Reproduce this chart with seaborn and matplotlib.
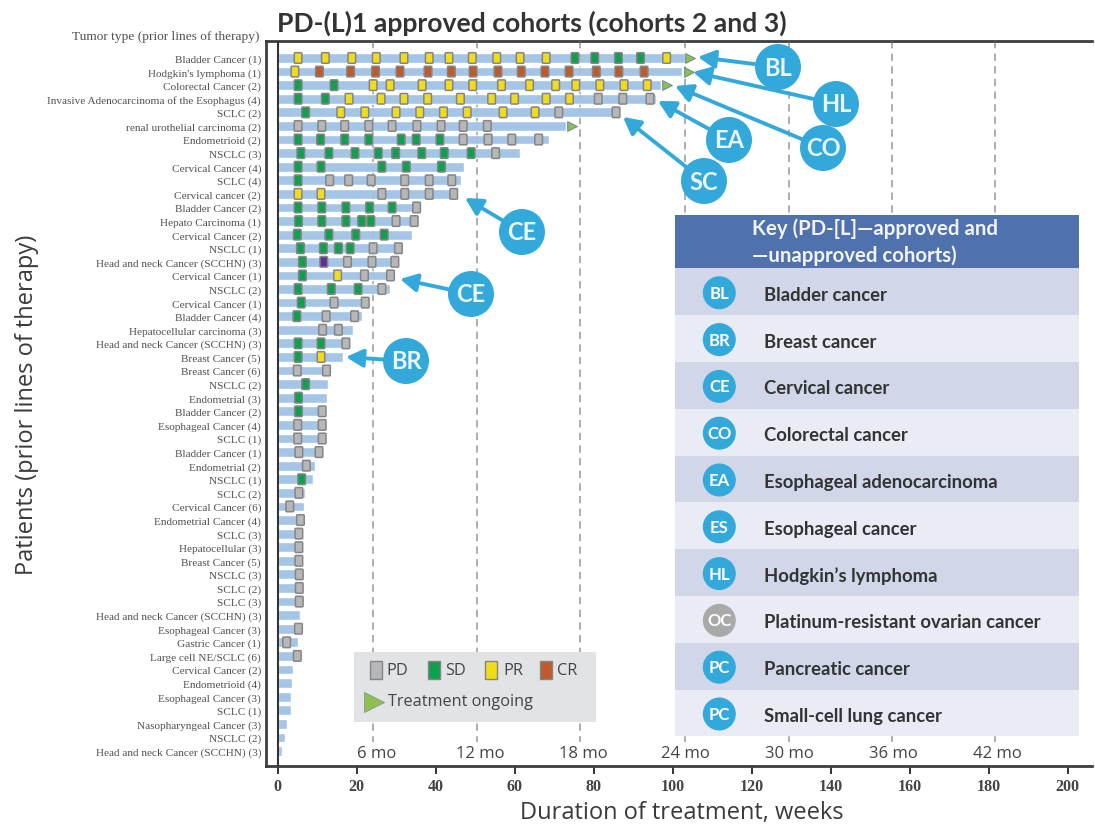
import numpy as np
import pandas as pd
import matplotlib
matplotlib.use("Agg")
import matplotlib.pyplot as plt
import seaborn as sns
from matplotlib.path import Path
from matplotlib.patches import Rectangle, Circle

# tumor type per patient, top to bottom
tumor_labels = ["Bladder Cancer (1)", "Hodgkin's lymphoma (1)", "Colorectal Cancer (2)",
    "Invasive Adenocarcinoma of the Esophagus (4)", "SCLC (2)", "renal urothelial carcinoma (2)",
    "Endometrioid (2)", "NSCLC (3)", "Cervical Cancer (4)", "SCLC (4)", "Cervical cancer (2)",
    "Bladder Cancer (2)", "Hepato Carcinoma (1)", "Cervical Cancer (2)", "NSCLC (1)",
    "Head and neck Cancer (SCCHN) (3)", "Cervical Cancer (1)", "NSCLC (2)", "Cervical Cancer (1)",
    "Bladder Cancer (4)", "Hepatocellular carcinoma (3)", "Head and neck Cancer (SCCHN) (3)",
    "Breast Cancer (5)", "Breast Cancer (6)", "NSCLC (2)", "Endometrial (3)", "Bladder Cancer (2)",
    "Esophageal Cancer (4)", "SCLC (1)", "Bladder Cancer (1)", "Endometrial (2)", "NSCLC (1)",
    "SCLC (2)", "Cervical Cancer (6)", "Endometrial Cancer (4)", "SCLC (3)", "Hepatocellular (3)",
    "Breast Cancer (5)", "NSCLC (3)", "SCLC (2)", "SCLC (3)", "Head and neck Cancer (SCCHN) (3)",
    "Esophageal Cancer (3)", "Gastric Cancer (1)", "Large cell NE/SCLC (6)", "Cervical Cancer (2)",
    "Endometrioid (4)", "Esophageal Cancer (3)", "SCLC (1)", "Nasopharyngeal Cancer (3)",
    "NSCLC (2)", "Head and neck Cancer (SCCHN) (3)"]

# duration of treatment, weeks
durations = [103.1, 102.5, 97, 95.7, 86, 73, 68.7, 61.4, 47.3, 46.4, 45, 36, 35, 34, 31, 30.6,
    29, 28.5, 23, 21.5, 19, 18, 16.6, 13, 12.7, 12.5, 12, 12, 12, 11.5, 9.5, 8.9, 6.9, 6.6, 6.3,
    5.9, 5.9, 5.9, 5.9, 5.9, 5.9, 5.6, 5.6, 5.3, 5.4, 3.9, 3.6, 3.5, 3.5, 2.5, 1.8, 1.1]

# responses: patient row -> weeks
pd_weeks = {3: [81.2, 87.4, 94.3], 4: [71.2, 85.7],
    5: [5.2, 11.2, 17, 23.1, 29, 35.3, 41.4, 47, 53.1], 6: [47, 53.3, 59.3, 66.1], 7: [55.2],
    9: [13.2, 18, 23.7, 32.2, 38.4, 44.1], 10: [26.4, 32.2, 38.4, 44.6], 11: [35.2], 12: [30, 34.6],
    14: [24.2, 30.6], 15: [17.7, 23.9, 29.7], 16: [22, 28.6], 17: [26.4], 18: [14.3, 22.2],
    19: [12.3, 19.5], 20: [11.4, 15.4], 21: [17.3], 23: [5, 12.4], 26: [11.3], 27: [5.1, 11.3],
    28: [5.1, 11.3], 29: [5.4, 10.5], 30: [7.3], 32: [5.4], 33: [3.1], 34: [5.8], 35: [5.4],
    36: [5.4], 37: [5.4], 38: [5.5], 39: [5.5], 40: [5.5], 42: [5.3], 43: [2.3], 44: [5]}
sd_weeks = {0: [75.3, 80.3, 86.3, 91.9], 2: [5.2, 14.3], 3: [5.2, 12.1], 4: [7.1],
    6: [5.2, 10.9, 17, 23.1, 31.3, 35.1, 41.1], 7: [5.9, 13, 19.6, 25.5, 29.9, 36.5, 42.2, 49],
    8: [5.2, 11, 26.4, 32.6, 41.5], 9: [5.2], 11: [5.2, 11.2, 17.3, 23.3, 29],
    12: [5.3, 11.2, 17.3, 21.3, 23.6], 13: [5, 13, 19.8, 27], 14: [5.8, 11.6, 15.4, 18.4], 15: [6.3],
    16: [6.3], 17: [5.2, 13.6, 20.4], 18: [6], 19: [4.9], 21: [5.2, 11], 22: [5.2], 24: [7.1],
    25: [5.3], 26: [5.3], 31: [6.1]}
pr_weeks = {0: [5.2, 12.1, 18.8, 25, 32, 38.4, 43.4, 49.3, 55.5, 61.4, 68, 98.5], 1: [4.4],
    2: [24.2, 28.5, 36.6, 43.4, 49.4, 56.7, 63.8, 70.4, 75.5, 81.6, 87.7, 93.6],
    3: [18.1, 26.2, 32, 38, 46.3, 54.2, 60, 68, 73.9], 4: [16, 22.1, 30, 36, 42, 48, 57.1, 65.2],
    10: [5.2, 11], 16: [15.2], 22: [11]}
cr_weeks = {1: [10.6, 18.5, 24.8, 31, 38.1, 44, 49.5, 55.8, 61.7, 67.7, 73.8, 80.7, 86.4, 92.8]}
other_weeks = {15: [11.7]}
ongoing_rows = [0, 1, 2, 5]
ongoing_weeks = [104.4, 104.2, 98.6, 74.6]

month_labels = ["6 mo", "12 mo", "18 mo", "24 mo", "30 mo", "36 mo", "42 mo"]
month_weeks = [24.1, 50.4, 76.7, 103.1, 129.4, 155.6, 181.7]

key_codes = ["BL", "BR", "CE", "CO", "EA", "ES", "HL", "OC", "PC", "PC"]
key_names = ["Bladder cancer", "Breast cancer", "Cervical cancer", "Colorectal cancer",
    "Esophageal adenocarcinoma", "Esophageal cancer", "Hodgkin\u2019s lymphoma",
    "Platinum-resistant ovarian cancer", "Pancreatic cancer", "Small-cell lung cancer"]

colors = {"PD": "#b7b7b7", "SD": "#0ea04c", "PR": "#f0dc18", "CR": "#bf5a2b", "other": "#63308f"}
blue = "#33a9db"

sns.set_theme(style="white")
plt.rcParams["font.family"] = ["Open Sans", "DejaVu Sans"]

# response marks as a long table
rows = []
for name, d in [("PD", pd_weeks), ("SD", sd_weeks), ("PR", pr_weeks), ("CR", cr_weeks), ("other", other_weeks)]:
    for r, wks in d.items():
        for w in wks:
            rows.append((r, w, name))
marks = pd.DataFrame(rows, columns=["row", "week", "response"])
bars = pd.DataFrame({"row": np.arange(len(durations)), "week": durations})
ongoing = pd.DataFrame({"row": ongoing_rows, "week": ongoing_weeks})

# rounded box used for the response marks
w, h, c = 0.72, 1.0, 0.18
box = Path([(-w + c, -h), (w - c, -h), (w, -h), (w, -h + c), (w, h - c), (w, h), (w - c, h),
            (-w + c, h), (-w, h), (-w, h - c), (-w, -h + c), (-w, -h), (-w + c, -h), (-w + c, -h)],
           [Path.MOVETO, Path.LINETO, Path.CURVE3, Path.CURVE3, Path.LINETO, Path.CURVE3, Path.CURVE3,
            Path.LINETO, Path.CURVE3, Path.CURVE3, Path.LINETO, Path.CURVE3, Path.CURVE3, Path.CLOSEPOLY])

fig = plt.figure(figsize=(10.95, 8.28), dpi=100)
ax = fig.add_axes([265.7 / 1095, 1 - 767 / 828, (1092 - 265.7) / 1095, 725 / 828])

sns.barplot(data=bars, x="week", y="row", orient="h", native_scale=True, width=0.72,
            color="#a4c5e5", saturation=1, ax=ax, zorder=2)
for wk in month_weeks:
    ax.plot([wk, wk], [-1.25, 50.3], color="#a9a9a9", lw=1.3, ls=(0, (4, 3)), zorder=1)
    ax.plot([wk, wk], [-1.25, 50.3], color="#a9a9a9", lw=1.3, ls=(0, (4, 3)), alpha=0.25, zorder=3)
sns.scatterplot(data=marks, x="week", y="row", hue="response", palette=colors, marker=box, s=58,
                edgecolor="#858585", linewidth=1.1, legend=False, ax=ax, zorder=4)
sns.scatterplot(data=ongoing, x="week", y="row", color="#8fbf4d", marker=">", s=48,
                edgecolor="#6f8f96", linewidth=0.8, legend=False, ax=ax, zorder=4)
ax.axvline(0, color="#333333", lw=1.5, zorder=5)

ax.set_xlim(-3.0, 206.2)
ax.set_ylim(52.1, -1.25)
ax.set_yticks(range(len(tumor_labels)))
ax.set_yticklabels(tumor_labels, family="Liberation Serif", fontsize=8.15, color="#505050")
ax.tick_params(axis="y", length=0, pad=3.3)
ax.set_xticks(range(0, 201, 20))
ax.tick_params(axis="x", length=6, width=1.4, color="#333333", pad=3, bottom=True)
for t in ax.get_xticklabels():
    t.set(family="Liberation Serif", fontsize=11.5, fontweight="bold", color="#444444")
for s in ["top", "left", "bottom"]:
    ax.spines[s].set(linewidth=2, color="#3d3d3d")
ax.spines["right"].set_visible(False)

ax.set_xlabel("Duration of treatment, weeks", fontsize=17, color="#3a3a3a", va="center")
ax.xaxis.set_label_coords(0.504, -0.064)
ax.set_ylabel("Patients (prior lines of therapy)", fontsize=17, color="#3a3a3a", va="center")
ax.yaxis.set_label_coords(-0.289, 0.50)

# overlay in picture pixels for the key, legend box and callouts
ov = fig.add_axes([0, 0, 1, 1], facecolor="none")
ov.set_xlim(0, 1095)
ov.set_ylim(828, 0)
ov.axis("off")

ov.text(277, 23, "PD-(L)1 approved cohorts (cohorts 2 and 3)", fontsize=19.1, fontweight="bold",
        family="Lato", color="#333333", va="center")
ov.text(259, 37, "Tumor type (prior lines of therapy)", family="Liberation Serif", fontsize=9.6,
        color="#505050", ha="right", va="center")

for lab, wk, px in zip(month_labels, month_weeks, [377, 480, 583, 685, 789, 893, 997]):
    ov.text(px, 754, lab, fontsize=12, color="#444444", ha="center", va="center")

# key panel
ov.add_patch(Rectangle((675, 215.7), 403.5, 53.6, color="#4f71ae", lw=0))
ov.text(752, 229, "Key (PD-[L]\u2014approved and", family="Lato", fontsize=14.7, fontweight="bold",
        color="#f2f4fa", va="center")
ov.text(752, 255.5, "\u2014unapproved cohorts)", family="Lato", fontsize=14.7, fontweight="bold",
        color="#f2f4fa", va="center")
for i, (code, name) in enumerate(zip(key_codes, key_names)):
    top = 269.3 + i * 46.8
    ov.add_patch(Rectangle((675, top), 403.5, 46.8, color="#d1d7e9" if i % 2 == 0 else "#e9ebf5", lw=0))
    ov.add_patch(Circle((719.3, top + 24.5), 16.5, color="#a9a9a9" if code == "OC" else blue, lw=0))
    ov.text(719.3, top + 24.5, code, fontsize=12, fontweight="bold", family="Lato", color="white",
            ha="center", va="center")
    ov.text(764, top + 26, name, fontsize=13.3, fontweight="bold", family="Lato", color="#333333",
            va="center")

# response legend box
ov.add_patch(Rectangle((354, 653), 241.6, 69.7, color="#e1e3e4", lw=0, zorder=3))
for lab, cx, tx in [("PD", 376, 386), ("SD", 434, 445.5), ("PR", 491, 503), ("CR", 546, 557)]:
    ov.add_patch(Rectangle((cx - 6, 662), 12, 18, facecolor=colors[lab], edgecolor="#858585", lw=1, zorder=4))
    ov.text(tx, 671, lab, fontsize=11.7, color="#444444", va="center", zorder=4)
ov.scatter([374], [703], marker=">", s=210, color="#8fbf4d", edgecolor="#7d9aa0", linewidth=0.6, zorder=4)
ov.text(388.5, 702, "Treatment ongoing", fontsize=11.7, color="#444444", va="center", zorder=4)

# callouts: code, circle centre, arrow tip
callouts = [("BL", 778, 68, 698, 58), ("HL", 836, 105, 693, 73), ("CO", 823, 149, 675, 87),
            ("EA", 729, 141, 658, 102), ("SC", 704, 182, 623, 118), ("CE", 522, 233, 465, 199),
            ("CE", 471, 295, 400, 280), ("BR", 406, 362, 346, 358)]
for code, cx, cy, tx, ty in callouts:
    ov.annotate("", xy=(tx, ty), xytext=(cx, cy), zorder=5,
                arrowprops=dict(arrowstyle="-|>,head_length=0.6,head_width=0.32", color=blue, lw=2.8,
                                mutation_scale=17, shrinkA=0, shrinkB=0))
    ov.add_patch(Circle((cx, cy), 23, color=blue, lw=0, zorder=6))
    ov.text(cx, cy, code, fontsize=17, fontweight="bold", family="Lato", color="#eaf6fc",
            ha="center", va="center", zorder=7)

fig.savefig("out.png", dpi=100)
